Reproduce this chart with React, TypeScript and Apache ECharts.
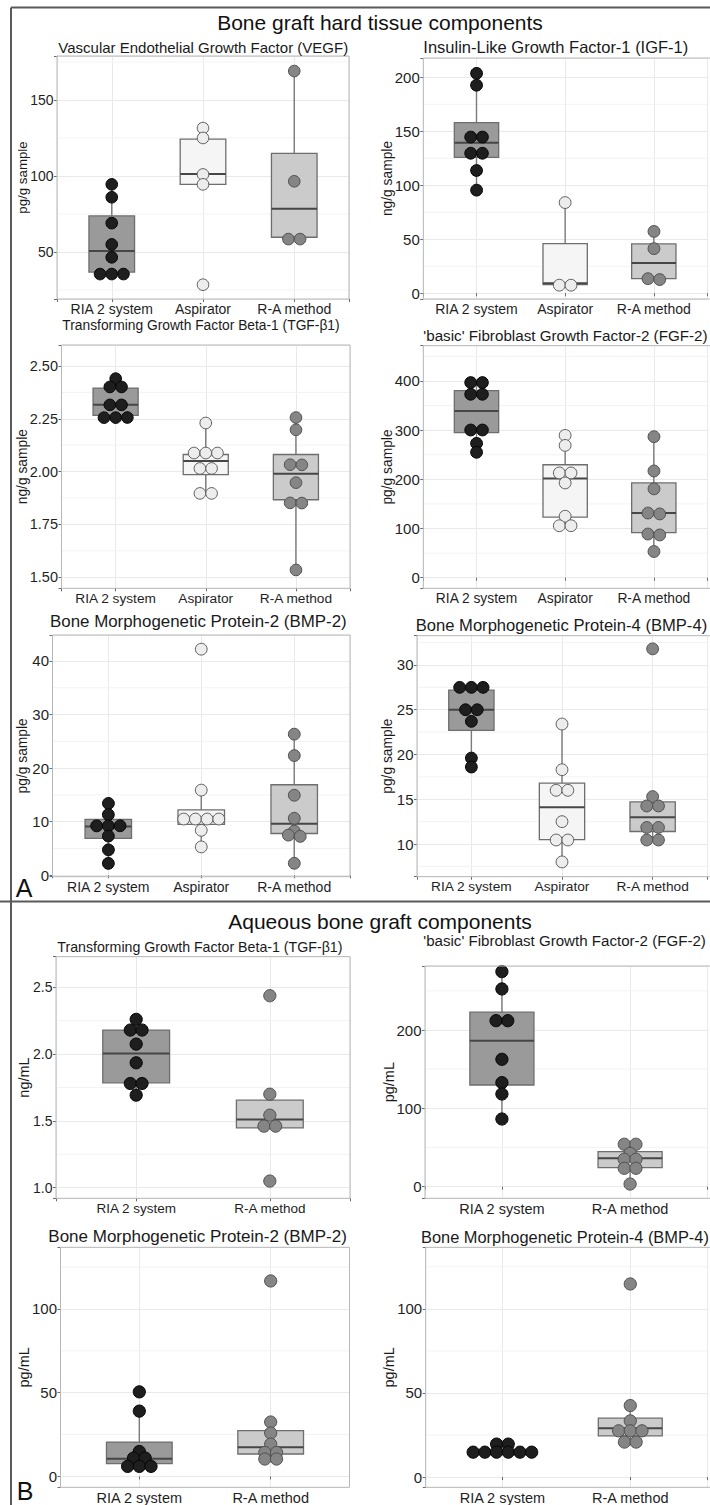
import React, { useEffect, useRef } from "react";
import * as echarts from "echarts";

const FONT = "'Liberation Sans', Arial, Helvetica, sans-serif";

// ---- categories ----
const RIA = "RIA 2 system";
const ASP = "Aspirator";
const RAM = "R-A method";
const GROUPS_HARD = [RIA, ASP, RAM];
const GROUPS_AQ = [RIA, RAM];

const TITLE_A = "Bone graft hard tissue components";
const TITLE_B = "Aqueous bone graft components";

// ---- A: hard tissue ----
// VEGF (pg/g sample)
const vegfRIA = [94.5, 86, 69, 55, 46.5, 35.5, 35.5, 35.5];
const vegfASP = [131.5, 125, 101, 94.5, 28.5];
const vegfRAM = [169, 96.5, 58.5, 58.5];
const vegfBox = [
  [35.5, 36.8, 50.7, 73.7, 94.5],
  [94.5, 94.5, 101.3, 124.3, 131.5],
  [58.5, 59.7, 78.5, 114.9, 169],
];
// IGF-1 (ng/g sample)
const igfRIA = [204.5, 193.5, 145.5, 145.5, 130.5, 130.5, 114.5, 96.5];
const igfASP = [84, 7.5, 7.5];
const igfRAM = [58.5, 42.5, 13.5, 13.5];
const igfBox = [
  [96.5, 125.9, 139.5, 158, 204.5],
  [7, 8, 9.3, 46, 84],
  [13.5, 13.6, 28.1, 45.7, 58.5],
];
// TGF-b1 (ng/g sample)
const tgfhRIA = [2.445, 2.405, 2.405, 2.32, 2.32, 2.26, 2.26, 2.26];
const tgfhASP = [2.23, 2.088, 2.088, 2.088, 2.015, 2.015, 1.897, 1.897];
const tgfhRAM = [2.26, 2.202, 2.037, 2.037, 1.952, 1.856, 1.856, 1.539];
const tgfhBox = [
  [2.26, 2.266, 2.316, 2.395, 2.445],
  [1.897, 1.986, 2.05, 2.081, 2.23],
  [1.539, 1.867, 1.99, 2.081, 2.26],
];
// FGF-2 (pg/g sample)
const fgfhRIA = [398.6, 398.6, 374.8, 374.8, 302, 302, 275, 257];
const fgfhASP = [289.4, 269, 213, 213, 192.7, 125, 105.7, 105.7];
const fgfhRAM = [289.4, 219.7, 183.8, 131.5, 131.5, 88.8, 88.8, 56];
const fgfhBox = [
  [257, 295, 339, 380.3, 398.6],
  [105.7, 123.2, 201.9, 229.7, 289.4],
  [56, 91.5, 131.5, 192.7, 289.4],
];
// BMP-2 (pg/g sample)
const bmp2hRIA = [13.66, 11.5, 9.4, 9.4, 9.4, 7.5, 5.0, 2.4];
const bmp2hASP = [42.2, 15.9, 10.5, 10.5, 10.5, 10.5, 8.4, 5.3];
const bmp2hRAM = [26.5, 22.5, 15.1, 10.8, 8.4, 7.5, 7.5, 2.4];
const bmp2hBox = [
  [2.4, 6.9, 9.1, 10.43, 13.66],
  [5.3, 9.5, 10.4, 12.2, 15.9],
  [2.4, 7.8, 9.6, 16.9, 26.5],
];
// BMP-4 (pg/g sample)
const bmp4hRIA = [27.5, 27.5, 27.5, 25, 25, 23.7, 19.6, 18.6];
const bmp4hASP = [23.4, 18.3, 16, 16, 12.5, 10.45, 10.45, 8];
const bmp4hRAM = [31.8, 15.3, 14.25, 14.25, 11.85, 11.85, 10.45, 10.45];
const bmp4hBox = [
  [18.6, 22.7, 25, 27.2, 27.5],
  [8, 10.5, 14.1, 16.8, 23.4],
  [10.45, 11.4, 13, 14.7, 15.3],
];

// ---- B: aqueous ----
const tgfaRIA = [2.26, 2.18, 2.18, 2.075, 1.935, 1.78, 1.78, 1.693];
const tgfaRAM = [2.437, 1.7, 1.543, 1.461, 1.461, 1.05];
const tgfaBox = [
  [1.693, 1.785, 2.005, 2.18, 2.26],
  [1.448, 1.448, 1.51, 1.655, 1.7],
];
const fgfaRIA = [274.5, 252.4, 211.9, 211.9, 162.6, 132.8, 118.3, 86.4];
const fgfaRAM = [54.2, 54.2, 42.6, 35, 35, 23.5, 23.5, 3.4];
const fgfaBox = [
  [86.4, 129.8, 186.4, 222.8, 274.5],
  [3.4, 24.3, 36.2, 44.7, 54.2],
];
const bmp2aRIA = [50.5, 39, 14.9, 11, 11, 6, 6, 6];
const bmp2aRAM = [116.7, 32.5, 25.9, 19.3, 14.3, 14.3, 10.4, 10.4];
const bmp2aBox = [
  [6, 7.6, 10.6, 20.5, 39],
  [10.4, 13.4, 17.4, 27.3, 32.5],
];
const bmp4aRIA = [19.6, 19.6, 14.8, 14.8, 14.8, 14.8, 14.8, 14.8];
const bmp4aRAM = [114.8, 42.5, 33.4, 27.5, 27.5, 27.5, 20.8, 20.8];
const bmp4aBox = [
  [14.8, 14.8, 14.8, 15.5, 19.6],
  [20.8, 24.5, 29.1, 35, 42.5],
];

// ---- styles ----
const BOX_FILL: Record<string, string> = { [RIA]: "#9a9a9a", [ASP]: "#f5f5f5", [RAM]: "#cbcbcb" };
const DOT_FILL: Record<string, string> = { [RIA]: "#1e1e1e", [ASP]: "#ededed", [RAM]: "#858585" };
const DOT_STROKE: Record<string, string> = { [RIA]: "#050505", [ASP]: "#5e5e5e", [RAM]: "#505050" };
const BOX_WIDTH = 0.5;
const DOT_SPACING = 11.7;

type Panel = {
  title: string; tx: number; ty: number; tf: number;
  yName: string; ynx: number; ynf: number;
  grid: [number, number, number, number];
  yMin: number; yMax: number; yStep: number; dec: number;
  xMin: number; xMax: number;
  groups: string[]; dots: number[][]; box: number[][];
  yFont: number; xFont: number; r: number;
};

const panels: Panel[] = [
  { title: "Vascular Endothelial Growth Factor (VEGF)", tx: 58.3, ty: 47, tf: 15, yName: "pg/g sample", ynx: 22, ynf: 13.3,
    grid: [57, 56, 292, 243], yMin: 19.1, yMax: 178.9, yStep: 50, dec: 0, xMin: 0.4, xMax: 3.6,
    groups: GROUPS_HARD, dots: [vegfRIA, vegfASP, vegfRAM], box: vegfBox, yFont: 14, xFont: 14, r: 5.8 },
  { title: "Insulin-Like Growth Factor-1 (IGF-1)", tx: 423.3, ty: 46.7, tf: 16.5, yName: "ng/g sample", ynx: 387, ynf: 13.8,
    grid: [423.3, 58, 293.4, 241], yMin: -5.3, yMax: 217.9, yStep: 50, dec: 0, xMin: 0.4, xMax: 3.6,
    groups: GROUPS_HARD, dots: [igfRIA, igfASP, igfRAM], box: igfBox, yFont: 15, xFont: 14, r: 5.9 },
  { title: "Transforming Growth Factor Beta-1 (TGF-\u03b21)", tx: 62.3, ty: 325, tf: 13.8, yName: "ng/g sample", ynx: 22, ynf: 13.8,
    grid: [61.5, 345, 288.5, 243.3], yMin: 1.448, yMax: 2.599, yStep: 0.25, dec: 2, xMin: 0.4, xMax: 3.6,
    groups: GROUPS_HARD, dots: [tgfhRIA, tgfhASP, tgfhRAM], box: tgfhBox, yFont: 14.5, xFont: 13.7, r: 5.8 },
  { title: "'basic' Fibroblast Growth Factor-2 (FGF-2)", tx: 423.3, ty: 335, tf: 15.2, yName: "pg/g sample", ynx: 387, ynf: 13.8,
    grid: [423.3, 345.7, 292.8, 242.6], yMin: -21.5, yMax: 471.7, yStep: 100, dec: 0, xMin: 0.4, xMax: 3.6,
    groups: GROUPS_HARD, dots: [fgfhRIA, fgfhASP, fgfhRAM], box: fgfhBox, yFont: 15, xFont: 13.8, r: 5.9 },
  { title: "Bone Morphogenetic Protein-2 (BMP-2)", tx: 50, ty: 621.7, tf: 16.9, yName: "pg/g sample", ynx: 22, ynf: 13.8,
    grid: [52.5, 635, 297.5, 241.7], yMin: -0.26, yMax: 44.85, yStep: 10, dec: 0, xMin: 0.4, xMax: 3.6,
    groups: GROUPS_HARD, dots: [bmp2hRIA, bmp2hASP, bmp2hRAM], box: bmp2hBox, yFont: 15, xFont: 14, r: 5.9 },
  { title: "Bone Morphogenetic Protein-4 (BMP-4)", tx: 415.7, ty: 625, tf: 16.6, yName: "pg/g sample", ynx: 387, ynf: 13.8,
    grid: [417, 635.7, 298.7, 241], yMin: 6.35, yMax: 33.27, yStep: 5, dec: 0, xMin: 0.4, xMax: 3.6,
    groups: GROUPS_HARD, dots: [bmp4hRIA, bmp4hASP, bmp4hRAM], box: bmp4hBox, yFont: 15, xFont: 13.7, r: 5.9 },
  { title: "Transforming Growth Factor Beta-1 (TGF-\u03b21)", tx: 57.3, ty: 946.7, tf: 14.2, yName: "ng/mL", ynx: 24, ynf: 14.5,
    grid: [56, 956.7, 294, 241.6], yMin: 0.921, yMax: 2.729, yStep: 0.5, dec: 1, xMin: 0.4, xMax: 2.6,
    groups: GROUPS_AQ, dots: [tgfaRIA, tgfaRAM], box: tgfaBox, yFont: 14, xFont: 13.5, r: 6.1 },
  { title: "'basic' Fibroblast Growth Factor-2 (FGF-2)", tx: 423.3, ty: 940, tf: 15.1, yName: "pg/mL", ynx: 389, ynf: 14.5,
    grid: [425, 966, 289.7, 232.3], yMin: -14.8, yMax: 281.7, yStep: 100, dec: 0, xMin: 0.4, xMax: 2.6,
    groups: GROUPS_AQ, dots: [fgfaRIA, fgfaRAM], box: fgfaBox, yFont: 15, xFont: 14.5, r: 6.1 },
  { title: "Bone Morphogenetic Protein-2 (BMP-2)", tx: 48.3, ty: 1236.7, tf: 17, yName: "pg/mL", ynx: 24, ynf: 14.5,
    grid: [60.5, 1247.3, 289, 240], yMin: -6.3, yMax: 136.8, yStep: 50, dec: 0, xMin: 0.4, xMax: 2.6,
    groups: GROUPS_AQ, dots: [bmp2aRIA, bmp2aRAM], box: bmp2aBox, yFont: 15, xFont: 14.5, r: 6.1 },
  { title: "Bone Morphogenetic Protein-4 (BMP-4)", tx: 421, ty: 1236.7, tf: 16.4, yName: "pg/mL", ynx: 389, ynf: 14.5,
    grid: [425.7, 1247.3, 289.7, 240], yMin: -5.9, yMax: 136.6, yStep: 50, dec: 0, xMin: 0.4, xMax: 2.6,
    groups: GROUPS_AQ, dots: [bmp4aRIA, bmp4aRAM], box: bmp4aBox, yFont: 15, xFont: 14.5, r: 6.1 },
];

function isMult(v: number, step: number) {
  const q = v / step;
  return Math.abs(q - Math.round(q)) < 1e-6;
}

function minorValues(p: Panel) {
  const out: number[] = [];
  const start = Math.ceil((p.yMin - p.yStep / 2) / p.yStep);
  for (let k = start; k * p.yStep + p.yStep / 2 <= p.yMax; k++) {
    const v = k * p.yStep + p.yStep / 2;
    if (v >= p.yMin) out.push(v);
  }
  return out;
}

function stackDots(p: Panel) {
  const out: number[][] = [];
  p.dots.forEach((vals, gi) => {
    const counts = new Map<number, number>();
    vals.forEach((v) => counts.set(v, (counts.get(v) || 0) + 1));
    const seen = new Map<number, number>();
    vals.forEach((v) => {
      const n = counts.get(v) as number;
      const k = seen.get(v) || 0;
      seen.set(v, k + 1);
      out.push([gi + 1, v, k - (n - 1) / 2, gi]);
    });
  });
  return out;
}

function buildOption() {
  const grids: any[] = [];
  const xAxes: any[] = [];
  const yAxes: any[] = [];
  const series: any[] = [];
  const graphics: any[] = [];

  const textStyle = (text: string, size: number, align: string, color = "#1a1a1a") => ({
    text, fontSize: size, fontFamily: FONT, fill: color,
    align, verticalAlign: "middle", textAlign: align, textVerticalAlign: "middle",
  });

  panels.forEach((p, i) => {
    const [gl, gt, gw, gh] = p.grid;
    grids.push({ left: gl, top: gt, width: gw, height: gh, show: true, backgroundColor: "#ffffff", borderWidth: 0 });
    xAxes.push({
      type: "value", gridIndex: i, min: p.xMin, max: p.xMax, minInterval: 1, maxInterval: 1,
      axisLine: { show: false },
      axisTick: { show: true, length: 3, lineStyle: { color: "#6a6a6a" } },
      axisLabel: {
        margin: 3, fontSize: p.xFont, fontFamily: FONT, color: "#1f1f1f",
        formatter: (v: number) => {
          const k = Math.round(v);
          return Math.abs(v - k) < 1e-6 && k >= 1 && k <= p.groups.length ? p.groups[k - 1] : "";
        },
      },
      splitLine: { show: true, lineStyle: { color: "#e9e9e9", width: 1 } },
    });
    yAxes.push({
      type: "value", gridIndex: i, min: p.yMin, max: p.yMax, minInterval: p.yStep, maxInterval: p.yStep,
      axisLine: { show: false },
      axisTick: { show: true, length: 3, lineStyle: { color: "#6a6a6a" } },
      axisLabel: {
        margin: 3.5, fontSize: p.yFont, fontFamily: FONT, color: "#1f1f1f",
        formatter: (v: number) => (isMult(v, p.yStep) ? v.toFixed(p.dec) : ""),
      },
      splitLine: { show: true, lineStyle: { color: "#e9e9e9", width: 1 } },
    });

    // minor horizontal gridlines
    series.push({
      type: "custom", xAxisIndex: i, yAxisIndex: i, z: 1, silent: true,
      encode: { x: 0, y: 1 },
      data: minorValues(p).map((v) => [p.xMin, v]),
      renderItem: (params: any, api: any) => {
        const cs = params.coordSys;
        const y = api.coord([api.value(0), api.value(1)])[1];
        return { type: "line", shape: { x1: cs.x, y1: y, x2: cs.x + cs.width, y2: y }, style: { stroke: "#f3f3f3", lineWidth: 1 } };
      },
    });

    // boxplots
    series.push({
      type: "custom", xAxisIndex: i, yAxisIndex: i, z: 2, silent: true,
      encode: { x: 0, y: [1, 2, 3, 4, 5] },
      data: p.box.map((b, gi) => [gi + 1, b[0], b[1], b[2], b[3], b[4], gi]),
      renderItem: (params: any, api: any) => {
        const x = api.value(0);
        const g = p.groups[api.value(6)];
        const pl = api.coord([x, api.value(1)]);
        const p1 = api.coord([x, api.value(2)]);
        const pm = api.coord([x, api.value(3)]);
        const p3 = api.coord([x, api.value(4)]);
        const ph = api.coord([x, api.value(5)]);
        const half = api.size([BOX_WIDTH, 0])[0] / 2;
        const cx = pm[0];
        return {
          type: "group",
          children: [
            { type: "line", shape: { x1: cx, y1: p1[1], x2: cx, y2: pl[1] }, style: { stroke: "#7a7a7a", lineWidth: 1.4 } },
            { type: "line", shape: { x1: cx, y1: p3[1], x2: cx, y2: ph[1] }, style: { stroke: "#7a7a7a", lineWidth: 1.4 } },
            { type: "rect", shape: { x: cx - half, y: p3[1], width: half * 2, height: Math.max(p1[1] - p3[1], 0.5) },
              style: { fill: BOX_FILL[g], stroke: "#6e6e6e", lineWidth: 1.3 } },
            { type: "line", shape: { x1: cx - half, y1: pm[1], x2: cx + half, y2: pm[1] }, style: { stroke: "#464646", lineWidth: 2 } },
          ],
        };
      },
    });

    // dots
    series.push({
      type: "custom", xAxisIndex: i, yAxisIndex: i, z: 3, silent: true,
      encode: { x: 0, y: 1 },
      data: stackDots(p),
      renderItem: (params: any, api: any) => {
        const pt = api.coord([api.value(0), api.value(1)]);
        const g = p.groups[api.value(3)];
        return {
          type: "circle",
          shape: { cx: pt[0] + api.value(2) * DOT_SPACING, cy: pt[1], r: p.r },
          style: { fill: DOT_FILL[g], stroke: DOT_STROKE[g], lineWidth: 1 },
        };
      },
    });

    // border, subtitle, y-axis name
    graphics.push({ type: "rect", z: 20, silent: true, shape: { x: gl, y: gt, width: gw, height: gh },
      style: { fill: "none", stroke: "#b8b8b8", lineWidth: 1 } });
    graphics.push({ type: "text", z: 20, x: p.tx, y: p.ty, style: textStyle(p.title, p.tf, "left") });
    graphics.push({ type: "text", z: 20, x: p.ynx, y: gt + gh / 2, rotation: Math.PI / 2,
      style: textStyle(p.yName, p.ynf, "center") });
  });

  // outer frame & headings
  const frame = { stroke: "#5a5a5a", lineWidth: 2 };
  graphics.push({ type: "line", z: 20, shape: { x1: 11, y1: 7.5, x2: 712, y2: 7.5 }, style: frame });
  graphics.push({ type: "line", z: 20, shape: { x1: 11, y1: 7.5, x2: 11, y2: 1506 }, style: frame });
  graphics.push({ type: "line", z: 20, shape: { x1: 0, y1: 901.5, x2: 712, y2: 901.5 }, style: frame });
  graphics.push({ type: "text", z: 20, x: 380, y: 22, style: textStyle(TITLE_A, 21, "center", "#111") });
  graphics.push({ type: "text", z: 20, x: 380, y: 921.7, style: textStyle(TITLE_B, 21, "center", "#111") });
  graphics.push({ type: "text", z: 20, x: 24, y: 888, style: textStyle("A", 25, "center", "#111") });
  graphics.push({ type: "text", z: 20, x: 25, y: 1491, style: textStyle("B", 25, "center", "#111") });

  return {
    animation: false,
    backgroundColor: "#ffffff",
    grid: grids,
    xAxis: xAxes,
    yAxis: yAxes,
    series,
    graphic: { elements: graphics },
  };
}

export default function App() {
  const ref = useRef<HTMLDivElement>(null);
  useEffect(() => {
    if (!ref.current) return;
    const chart = echarts.init(ref.current, undefined, { renderer: "svg" });
    chart.setOption(buildOption() as any);
    return () => chart.dispose();
  }, []);
  return (
    <div
      ref={ref}
      style={{ position: "absolute", left: 0, top: 0, width: 710, height: 1505, overflow: "hidden", background: "#fff" }}
    />
  );
}
